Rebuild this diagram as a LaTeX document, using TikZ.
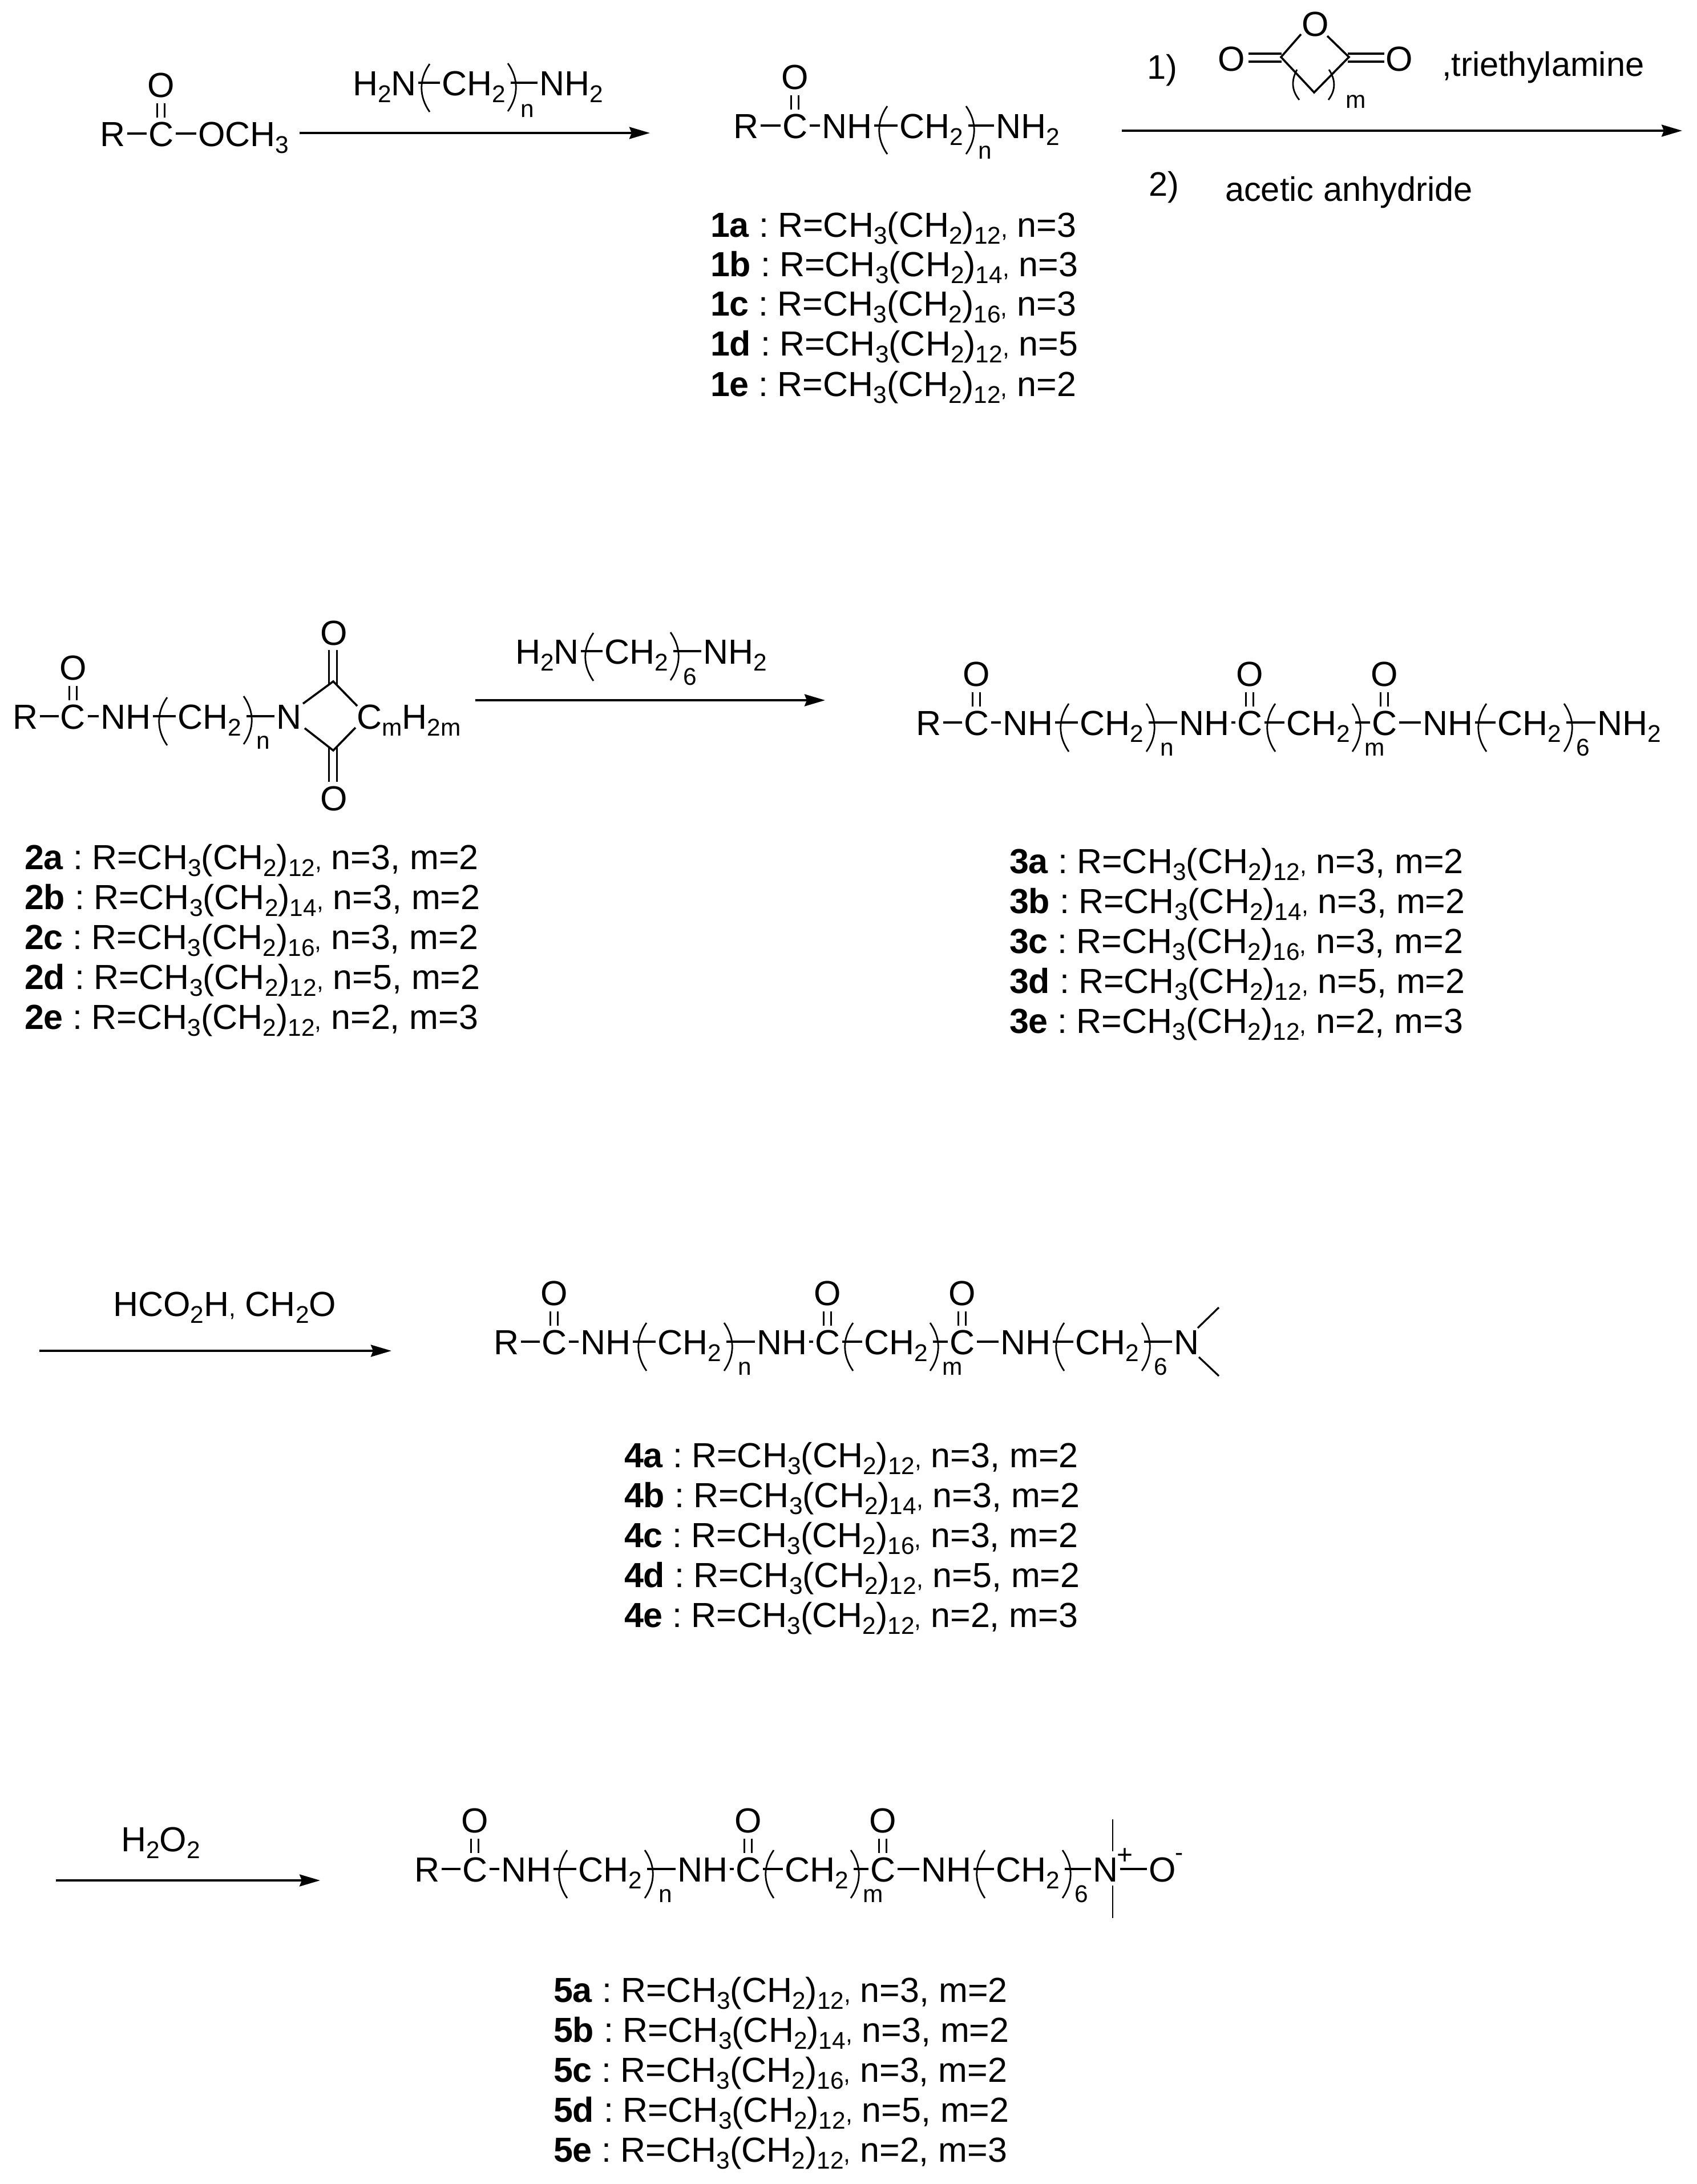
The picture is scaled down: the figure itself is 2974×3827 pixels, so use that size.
\documentclass[tikz,border=0pt]{standalone}
\usepackage{fontspec}
\setmainfont{Liberation Sans}
\usetikzlibrary{arrows.meta}
\newcommand\mainsz{\fontsize{15.25}{17}\selectfont}
\newcommand\subsz{\fontsize{10.6}{12}\selectfont}
\newcommand\rgtsz{\fontsize{14.9}{16}\selectfont}
\newcommand\chsub[1]{\raisebox{-3pt}{\subsz #1}}
\newcommand\smcomma{{\subsz ,}}
\tikzset{
  x=0.25pt,y=-0.25pt,
  atom/.style={inner sep=0pt,outer sep=0pt,anchor=base west,font=\mainsz,text height=11pt,text depth=0pt},
  txt/.style={inner sep=0pt,outer sep=0pt,anchor=base west,font=\mainsz},
  rgt/.style={inner sep=0pt,outer sep=0pt,anchor=base west,font=\rgtsz},
  idx/.style={inner sep=0pt,outer sep=0pt,anchor=base west,font=\subsz},
  bond/.style={line width=0.9pt,shorten <=0.875pt,shorten >=0.875pt},
  bondp/.style={line width=0.9pt,shorten <=2.25pt,shorten >=0.875pt},
  dblbond/.style={line width=0.7pt,shorten <=2.5pt,shorten >=1.5pt},
  dblfree/.style={line width=0.75pt},
  parenline/.style={line width=0.7pt},
  rxn/.style={line width=1pt,-{Stealth[length=9pt,width=5.2pt,inset=1pt]}},
}
% parens: extreme x, centre y
\newcommand\chemLP[2]{\draw[parenline] ({#1+14},{#2-42}) .. controls ({#1-5},{#2-15}) and ({#1-5},{#2+15}) .. ({#1+14},{#2+42});}
\newcommand\chemRP[2]{\draw[parenline] ({#1-14},{#2-42}) .. controls ({#1+5},{#2-15}) and ({#1+5},{#2+15}) .. ({#1-14},{#2+42});}
% O above a carbon, with double bond
\newcommand\carbonyl[2]{%
  \node[atom,anchor=base] (#1) at ([yshift=21.35pt]#2.base) {O};
  \draw[dblbond] ([xshift=-1.7pt]#1.south) -- ([xshift=-1.7pt]#2.north);
  \draw[dblbond] ([xshift=1.7pt]#1.south) -- ([xshift=1.7pt]#2.north);}
\newcommand\lab[6]{\node[txt] (#1) at (#2,#3) {\textbf{#4} :\kern-1.6pt{} R=CH\chsub{3}(CH\chsub{2})\chsub{#5}\smcomma{} #6};}
% long chain, drawn in the coordinates of row 3
\newcommand\chainrow[5]{%
 \begin{scope}[shift={(#2,#3)},name prefix=#1-]
  \node[atom] (R) at (1605,1288) {R};
  \node[atom] (C1) at (1689,1288) {C};
  \carbonyl{O1}{C1}
  \node[atom] (NHa) at (1757,1288) {NH};
  \node[atom] (CHa) at (1892,1288) {CH\chsub{2}};
  \node[idx] (n) at (2033,1324) {n};
  \node[atom] (NHb) at (2066,1288) {NH};
  \node[atom] (C2) at (2168,1288) {C};
  \carbonyl{O2}{C2}
  \node[atom] (CHb) at (2254,1288) {CH\chsub{2}};
  \node[idx] (m) at (2391,1324) {m};
  \node[atom] (C3) at (2404,1288) {C};
  \carbonyl{O3}{C3}
  \node[atom] (NHc) at (2493,1288) {NH};
  \node[atom] (CHc) at (2624,1288) {CH\chsub{2}};
  \node[idx] (six) at (2762,1324) {6};
  \node[atom] (end) at (#4,1288) {#5};
  \draw[bond] (R) -- (C1);
  \draw[bond] (C1) -- (NHa);
  \draw[bond] (NHa) -- (CHa);
  \draw[bondp] (CHa) -- (NHb);
  \draw[bond] (NHb) -- (C2);
  \draw[bond] (C2) -- (CHb);
  \draw[bondp] (CHb) -- (C3);
  \draw[bond] (C3) -- (NHc);
  \draw[bond] (NHc) -- (CHc);
  \draw[bondp] (CHc) -- (end);
  \chemLP{1859}{1275}\chemRP{2023}{1275}
  \chemLP{2221}{1275}\chemRP{2384}{1275}
  \chemLP{2591}{1275}\chemRP{2755}{1275}
 \end{scope}}
\begin{document}
\begin{tikzpicture}
\useasboundingbox (0,0) rectangle (2974,3827);
\fill[white] (0,0) rectangle (2974,3827);

% --- reactant
\node[atom] (aR) at (175,256) {R};
\node[atom] (aC) at (260,256) {C};
\carbonyl{aO}{aC}
\node[atom] (aOMe) at (347,256) {OCH\chsub{3}};
\draw[bond] (aR) -- (aC);
\draw[bond] (aC) -- (aOMe);

% --- reagent 1
\node[atom] (r1a) at (618,167) {H\chsub{2}N};
\node[atom] (r1b) at (774,167) {CH\chsub{2}};
\node[idx] (r1n) at (912,205) {n};
\node[atom] (r1c) at (945,167) {NH\chsub{2}};
\draw[bond] (r1a) -- (r1b);
\draw[bondp] (r1b) -- (r1c);
\chemLP{739}{154}\chemRP{904}{153}
\coordinate (a1s) at (525,233);
\coordinate (a1e) at (1139,233);
\draw[rxn] (a1s) -- (a1e);

% --- compound 1
\node[atom] (bR) at (1285,242) {R};
\node[atom] (bC) at (1371,242) {C};
\carbonyl{bO}{bC}
\node[atom] (bNH) at (1440,242) {NH};
\node[atom] (bCH) at (1576,242) {CH\chsub{2}};
\node[idx] (bn) at (1714,278) {n};
\node[atom] (bN) at (1745,242) {NH\chsub{2}};
\draw[bond] (bR) -- (bC);
\draw[bond] (bC) -- (bNH);
\draw[bond] (bNH) -- (bCH);
\draw[bondp] (bCH) -- (bN);
\chemLP{1541}{228}\chemRP{1707}{228}

\lab{l1a}{1245}{415}{1a}{12}{n=3}
\lab{l1b}{1245}{484}{1b}{14}{n=3}
\lab{l1c}{1245}{553}{1c}{16}{n=3}
\lab{l1d}{1245}{623}{1d}{12}{n=5}
\lab{l1e}{1245}{694}{1e}{12}{n=2}

% --- anhydride reagent
\node[rgt] (s1) at (2010,138) {1)};
\node[atom,anchor=base] (oT) at (2305,63) {O};
\node[atom,anchor=base] (oL) at (2158,124) {O};
\node[atom,anchor=base] (oR) at (2452,124) {O};
\coordinate (vL) at (2245,100);
\coordinate (vR) at (2364,100);
\coordinate (vB) at (2303,162);
\coordinate (tL) at (2280,60);
\coordinate (tR) at (2326,63);
\draw[line width=0.9pt,line join=miter] (tL) -- (vL) -- (vB) -- (vR) -- (tR);
\coordinate (dL1) at (2188,94); \coordinate (dL2) at (2246,94);
\coordinate (dL3) at (2188,108); \coordinate (dL4) at (2246,108);
\coordinate (dR1) at (2362,94); \coordinate (dR2) at (2426,94);
\coordinate (dR3) at (2362,108); \coordinate (dR4) at (2426,108);
\draw[line width=0.9pt] (dL1) -- (dL2) (dL3) -- (dL4) (dR1) -- (dR2) (dR3) -- (dR4);
\draw[parenline] (2273,122) .. controls (2263,140) and (2263,158) .. (2277,175);
\draw[parenline] (2329,122) .. controls (2341,140) and (2341,158) .. (2328,175);
\node[idx] (am) at (2358,189) {m};
\node[rgt] (tea) at (2527,133) {,triethylamine};
\node[rgt] (s2) at (2013,343) {2)};
\node[rgt] (ac) at (2147,352) {acetic anhydride};
\coordinate (a2s) at (1966,229);
\coordinate (a2e) at (2948,229);
\draw[rxn] (a2s) -- (a2e);

% --- compound 2
\node[atom] (cR) at (22,1277) {R};
\node[atom] (cC) at (106,1277) {C};
\carbonyl{cO}{cC}
\node[atom] (cNH) at (176,1277) {NH};
\node[atom] (cCH) at (311,1277) {CH\chsub{2}};
\node[idx] (cn) at (449,1312) {n};
\node[atom] (cN) at (484,1277) {N};
\node[atom] (cCm) at (625,1277) {C\chsub{m}H\chsub{2m}};
\draw[bond] (cR) -- (cC);
\draw[bond] (cC) -- (cNH);
\draw[bond] (cNH) -- (cCH);
\draw[bondp] (cCH) -- (cN);
\chemLP{279}{1264}\chemRP{441}{1262}
\coordinate (cvT) at (584,1194);
\coordinate (cvB) at (584,1315);
\coordinate (cn1) at (531,1233);
\coordinate (cn2) at (534,1276);
\coordinate (cc1) at (626,1237);
\coordinate (cc2) at (623,1275);
\draw[line width=0.9pt,line join=miter] (cn1) -- (cvT) -- (cc1);
\draw[line width=0.9pt,line join=miter] (cn2) -- (cvB) -- (cc2);
\node[atom,anchor=base] (cOt) at (585,1130) {O};
\node[atom,anchor=base] (cOb) at (585,1420) {O};
\coordinate (d1a) at (576,1139); \coordinate (d1b) at (576,1201);
\coordinate (d2a) at (590,1139); \coordinate (d2b) at (590,1201);
\coordinate (d3a) at (576,1308); \coordinate (d3b) at (576,1370);
\coordinate (d4a) at (590,1308); \coordinate (d4b) at (590,1370);
\draw[dblfree] (d1a) -- (d1b) (d2a) -- (d2b) (d3a) -- (d3b) (d4a) -- (d4b);

\lab{l2a}{43}{1523}{2a}{12}{n=3, m=2}
\lab{l2b}{43}{1593}{2b}{14}{n=3, m=2}
\lab{l2c}{43}{1663}{2c}{16}{n=3, m=2}
\lab{l2d}{43}{1733}{2d}{12}{n=5, m=2}
\lab{l2e}{43}{1803}{2e}{12}{n=2, m=3}

% --- reagent 2
\node[atom] (r2a) at (903,1163) {H\chsub{2}N};
\node[atom] (r2b) at (1059,1163) {CH\chsub{2}};
\node[idx] (r2s) at (1197,1200) {6};
\node[atom] (r2c) at (1232,1163) {NH\chsub{2}};
\draw[bond] (r2a) -- (r2b);
\draw[bondp] (r2b) -- (r2c);
\chemLP{1026}{1151}\chemRP{1189}{1150}
\coordinate (a3s) at (833,1227);
\coordinate (a3e) at (1446,1227);
\draw[rxn] (a3s) -- (a3e);

% --- compound 3
\chainrow{r3}{0}{0}{2799}{NH\chsub{2}}
\lab{l3a}{1769}{1530}{3a}{12}{n=3, m=2}
\lab{l3b}{1769}{1600}{3b}{14}{n=3, m=2}
\lab{l3c}{1769}{1670}{3c}{16}{n=3, m=2}
\lab{l3d}{1769}{1740}{3d}{12}{n=5, m=2}
\lab{l3e}{1769}{1810}{3e}{12}{n=2, m=3}

% --- step to 4
\node[txt] (r3t) at (198,2306) {HCO\chsub{2}H\smcomma{} CH\chsub{2}O};
\coordinate (a4s) at (69,2367);
\coordinate (a4e) at (686,2367);
\draw[rxn] (a4s) -- (a4e);
\chainrow{r4}{-740}{1085}{2797}{N}
\coordinate (m4a) at (2099,2327);
\coordinate (m4b) at (2136,2291);
\coordinate (m4c) at (2101,2378);
\coordinate (m4d) at (2136,2411);
\draw[line width=0.8pt] (m4a) -- (m4b) (m4c) -- (m4d);
\lab{l4a}{1094}{2571}{4a}{12}{n=3, m=2}
\lab{l4b}{1094}{2641}{4b}{14}{n=3, m=2}
\lab{l4c}{1094}{2711}{4c}{16}{n=3, m=2}
\lab{l4d}{1094}{2781}{4d}{12}{n=5, m=2}
\lab{l4e}{1094}{2851}{4e}{12}{n=2, m=3}

% --- step to 5
\node[txt] (r4t) at (212,3244) {H\chsub{2}O\chsub{2}};
\coordinate (a5s) at (98,3295);
\coordinate (a5e) at (561,3295);
\draw[rxn] (a5s) -- (a5e);
\chainrow{r5}{-879}{2009}{2794}{N}
\node[atom] (oxO) at (2013,3297) {O};
\draw[bond] (r5-end) -- (oxO);
\node[inner sep=0pt,font=\fontsize{12}{14}\selectfont] (plus) at (1971,3253) {+};
\node[inner sep=0pt,font=\subsz] (minus) at (2067,3254) {-};
\coordinate (m5a) at (1950,3188);
\coordinate (m5b) at (1950,3244);
\coordinate (m5c) at (1950,3304);
\coordinate (m5d) at (1950,3361);
\draw[line width=0.7pt] (m5a) -- (m5b) (m5c) -- (m5d);
\lab{l5a}{970}{3508}{5a}{12}{n=3, m=2}
\lab{l5b}{970}{3578}{5b}{14}{n=3, m=2}
\lab{l5c}{970}{3648}{5c}{16}{n=3, m=2}
\lab{l5d}{970}{3718}{5d}{12}{n=5, m=2}
\lab{l5e}{970}{3788}{5e}{12}{n=2, m=3}
\end{tikzpicture}
\end{document}
